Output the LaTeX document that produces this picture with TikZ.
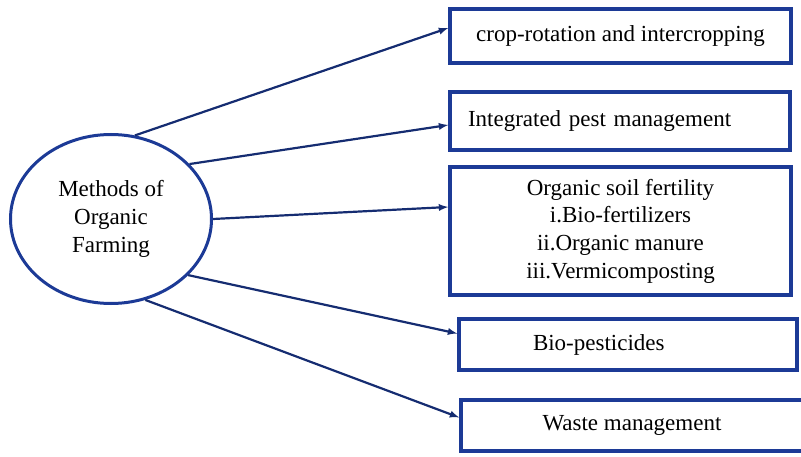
\documentclass[tikz,border=0pt]{standalone}
\usepackage{fontspec}
\setmainfont{Liberation Serif}
\usetikzlibrary{shapes.geometric}
\definecolor{orgblue}{RGB}{28,58,150}
\tikzset{
  box/.style={draw=orgblue, line width=3.5pt, rectangle, inner sep=0pt},
  link/.style={draw=orgblue!75!black, line width=2.2pt, -latex}
}
\begin{document}
\begin{tikzpicture}[x=1pt,y=-1pt,font=\fontsize{23}{28}\selectfont]
\useasboundingbox (0,0) rectangle (801,457);

\node[ellipse, draw=orgblue, line width=3pt, minimum width=201pt, minimum height=169pt, align=center] (meth) at (111,219) {Methods of\\Organic\\Farming};

\node[box, minimum width=341pt, minimum height=54pt] (crop) at (620.5,36) {crop-rotation and intercropping};
\node[box, minimum height=58pt, inner xsep=18pt, text width=304pt, align=left] (pest) at (620,121) {Integrated pest management};
\node[box, minimum width=341pt, minimum height=128pt, align=center, font=\fontsize{23}{27.7}\selectfont] (soil) at (620.5,231)
  {Organic soil fertility\\i.Bio-fertilizers\\ii.Organic manure\\iii.Vermicomposting};
\node[box, minimum height=51pt, inner xsep=74pt, text width=190pt, align=left] (bio) at (628,344.5) {Bio-pesticides};
\node[box, minimum width=342pt, minimum height=51pt] (waste) at (632,425.5) {Waste management};

\draw[link] (meth.74) -- ([yshift=8pt]crop.west);
\draw[link] (meth.35) -- ([yshift=-4pt]pest.west);
\draw[link] (meth.0) -- ([yshift=24pt]soil.west);
\draw[link] (meth.-36) -- ([yshift=11pt]bio.west);
\draw[link] (meth.-67) -- ([yshift=8pt]waste.west);

\end{tikzpicture}
\end{document}
